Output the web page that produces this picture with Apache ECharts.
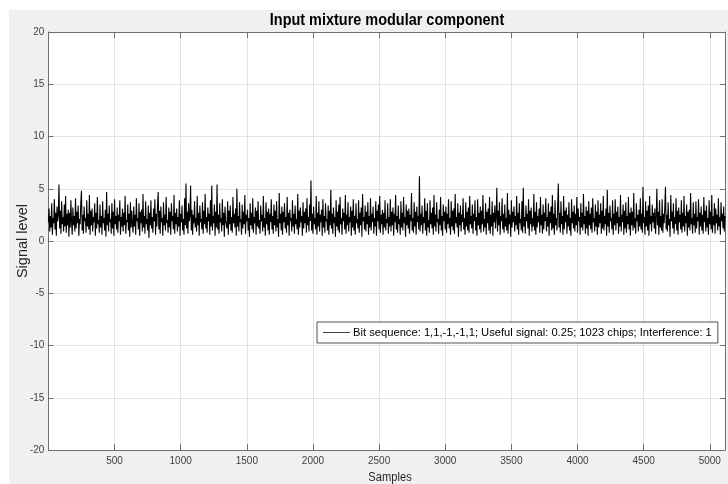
<!DOCTYPE html>
<html>
<head>
<meta charset="utf-8">
<script src="https://cdn.jsdelivr.net/npm/echarts@6/dist/echarts.min.js"></script>
<style>html,body{margin:0;padding:0;background:#fff}#c{width:728px;height:484px}</style>
</head>
<body>
<div id="c"></div>
<script>
// Sample step between plotted points (samples)
var sampleStep = 5;
// Signal level, one value every 5 samples (5115 samples total)
var signalLevel = [
1.8,3.1,0.9,2.4,1.3,3.6,0.6,2.2,1.7,4.0,1.1,2.7,0.5,3.3,1.9,2.5,
5.4,1.2,2.9,0.7,3.8,1.6,2.3,0.9,3.5,1.4,4.3,0.8,2.6,1.5,3.0,0.4,
2.7,1.3,3.9,1.8,0.6,3.2,1.5,2.4,0.9,4.1,1.2,2.8,1.7,3.4,0.5,2.1,
1.6,3.7,4.8,1.0,2.5,0.7,3.3,1.9,2.2,0.8,3.9,1.4,2.6,1.1,4.4,0.6,
2.9,1.5,3.1,0.9,2.3,1.8,3.6,0.5,2.7,1.2,4.2,1.6,2.0,0.8,3.5,1.3,
2.4,0.6,3.8,1.7,2.2,1.0,3.0,0.4,4.7,1.5,2.6,0.9,3.4,1.8,2.1,0.7,
3.6,1.2,2.8,0.5,4.0,1.6,2.4,1.1,3.2,0.8,2.5,1.9,3.9,0.6,2.3,1.4,
3.1,0.9,2.7,1.5,4.3,0.7,2.0,1.8,3.5,1.0,2.6,0.4,3.7,1.3,2.9,1.6,
0.8,3.3,1.4,2.5,0.6,4.1,1.9,2.2,1.1,3.6,0.5,2.8,1.7,3.0,0.9,4.5,
1.3,2.4,0.7,3.8,1.6,2.1,1.0,3.4,0.3,2.7,1.5,3.9,1.2,2.3,0.8,3.1,
1.9,4.0,0.6,2.6,1.4,3.5,4.7,1.1,2.9,0.7,3.3,1.8,2.2,0.5,3.7,1.5,
2.5,1.0,4.2,1.7,2.0,0.8,3.2,1.3,2.8,0.6,3.6,1.9,2.4,1.1,4.4,0.7,
2.7,1.6,3.1,0.9,2.3,1.4,3.9,0.5,2.6,1.8,3.4,1.0,2.1,0.6,4.1,1.5,
5.5,1.2,2.8,0.7,3.6,1.9,2.4,5.3,1.0,3.0,0.6,2.5,1.7,3.8,1.3,2.2,
0.9,4.3,1.5,2.7,0.5,3.4,1.8,2.1,1.1,3.7,0.7,2.9,1.6,4.5,1.2,2.3,
0.8,3.2,1.9,2.6,0.6,3.9,1.4,5.3,1.0,2.4,1.7,3.5,0.5,2.8,1.3,5.4,
1.1,2.5,0.7,3.6,1.8,2.2,0.9,4.0,1.5,2.7,0.4,3.3,1.9,2.0,1.2,3.8,
0.6,2.9,1.6,3.4,1.0,2.3,0.8,4.2,1.7,2.6,1.3,3.1,0.5,5.0,1.4,2.4,
0.9,3.7,1.8,2.1,0.6,3.5,1.2,2.8,1.6,4.4,0.7,2.5,1.9,3.0,1.0,2.2,
0.4,3.6,1.5,2.7,1.1,4.1,0.8,2.3,1.7,3.2,0.6,2.9,1.4,3.8,1.2,2.0,
0.7,3.4,1.9,2.5,0.9,4.3,1.3,2.2,0.5,3.7,1.6,2.8,1.0,3.1,0.6,2.6,
1.8,4.0,1.1,2.4,0.7,3.5,1.5,2.9,0.9,3.8,1.3,2.1,0.4,4.6,1.7,2.6,
1.0,3.3,0.6,2.8,1.8,3.6,1.2,2.3,0.8,4.2,1.5,2.7,0.5,3.0,1.9,2.2,
0.9,3.9,1.4,2.6,0.7,3.4,1.6,2.1,1.1,4.5,0.6,2.9,1.3,3.2,1.8,2.4,
0.5,3.7,1.2,2.8,1.7,3.1,0.8,4.1,1.5,2.3,0.9,3.5,1.9,5.8,1.0,2.6,
0.7,3.3,1.6,2.2,1.1,4.3,0.6,2.7,1.4,3.8,0.9,2.5,1.8,3.0,0.5,4.0,
1.3,2.4,0.8,3.6,1.9,2.1,1.0,3.4,0.6,2.9,1.5,4.9,1.2,2.6,0.7,3.2,
1.7,2.3,0.4,3.9,1.4,2.8,1.0,3.5,0.8,4.2,1.6,2.2,0.6,3.1,1.9,2.7,
1.1,4.4,0.7,2.5,1.5,3.7,0.9,2.3,1.8,3.3,0.5,2.9,1.3,4.0,1.0,2.4,
0.6,3.6,1.7,2.1,1.2,3.9,0.8,2.7,1.5,3.2,0.4,4.5,1.9,2.3,1.1,3.4,
0.9,2.8,1.6,3.7,0.6,2.4,1.3,4.1,1.0,2.6,1.8,3.3,0.7,2.2,1.4,3.8,
0.5,2.9,1.9,3.5,1.1,4.3,0.8,2.5,1.6,3.0,0.6,2.7,1.3,3.9,1.0,2.1,
1.7,3.6,0.7,2.3,1.4,4.0,0.9,2.8,1.5,3.2,0.5,2.6,1.8,4.4,1.1,2.4,
0.8,3.4,1.6,2.1,0.6,3.8,1.3,2.7,1.0,4.2,1.7,2.3,0.4,3.5,1.5,2.9,
1.2,3.1,0.7,2.5,1.9,4.6,1.0,2.2,0.8,3.7,1.4,2.8,0.6,3.3,1.8,2.4,
1.1,6.2,0.9,2.6,1.5,3.4,0.7,2.3,1.7,4.1,1.0,2.9,0.5,3.6,1.3,2.0,
0.8,3.9,1.6,2.7,1.2,3.2,0.6,4.4,1.4,2.5,0.9,3.7,1.8,2.1,0.7,3.0,
1.5,4.2,1.0,2.4,0.5,3.5,1.9,2.8,1.1,3.3,0.8,2.6,1.6,4.0,1.2,2.2,
0.6,3.8,1.4,2.9,1.0,3.1,0.7,4.5,1.7,2.3,1.3,3.6,0.4,2.7,1.5,3.4,
0.9,2.5,1.8,4.1,1.1,2.2,0.6,3.7,1.4,2.8,1.0,3.2,0.8,4.3,1.6,2.4,
1.2,3.5,0.7,2.6,1.9,3.9,1.0,2.3,0.5,4.0,1.5,2.7,1.1,3.3,0.8,2.9,
1.6,4.4,0.9,2.1,1.3,3.6,0.6,2.8,1.7,3.1,1.0,4.2,0.7,2.5,1.4,3.8,
0.5,2.7,1.8,3.4,1.2,2.3,5.1,0.9,2.9,1.5,3.7,0.6,2.4,1.9,4.1,1.1,
2.6,0.8,3.5,1.4,2.2,1.0,4.6,0.7,3.0,1.6,2.5,0.4,3.9,1.3,2.8,1.8,
3.3,0.9,2.4,1.5,4.3,1.1,2.7,0.6,3.6,1.7,2.1,1.0,3.8,0.8,5.1,1.4,
2.3,0.7,3.4,1.9,2.6,1.2,4.0,0.5,2.9,1.6,3.2,0.9,2.2,1.4,4.5,1.0,
2.8,0.6,3.7,1.3,2.4,1.8,3.1,0.8,4.2,1.5,2.5,0.7,3.5,1.1,2.7,1.9,
4.1,0.9,2.3,1.4,3.6,0.5,2.8,1.7,3.3,1.0,4.4,1.2,2.6,0.6,3.9,1.5,
2.2,1.0,3.5,5.5,1.3,2.7,0.8,3.8,1.6,2.4,0.6,4.3,1.1,2.9,1.8,3.2,
0.7,2.5,1.4,3.7,1.0,2.2,0.5,4.0,1.7,2.8,1.2,3.4,0.9,2.6,1.5,4.2,
0.8,3.1,1.9,2.3,0.6,3.6,1.3,2.7,1.0,4.5,1.6,2.4,0.7,3.3,1.2,2.9,
0.5,3.8,1.5,2.6,1.1,3.2,0.8,4.1,1.8,2.2,0.9,3.5,1.4,2.8,0.6,3.9,
1.3,2.5,1.7,3.6,0.7,2.9,1.2,4.3,1.0,2.4,1.6,3.1,0.5,4.9,1.4,2.7,
0.8,3.4,1.9,2.2,1.1,3.9,0.6,2.6,1.5,4.0,1.0,2.8,1.7,3.3,0.7,2.3,
1.4,4.4,0.9,2.5,1.8,3.5,0.6,2.9,1.2,3.7,0.8,2.4,1.6,4.2,1.1,2.7,
0.5,3.2,1.5,2.8,1.0,4.6,1.3,2.2,0.7,3.6,1.9,2.5,0.9,3.0,1.4,4.1,
1.1,2.6,0.8,5.2,1.7,2.3,0.6,3.8,1.4,2.9,1.0,3.4,0.5,4.3,1.6,2.4,
0.9,3.5,1.8,2.7,1.2,3.1,0.7,2.2,5.0,1.5,2.8,0.6,3.9,1.3,2.4,1.0,
4.0,0.8,2.6,1.7,3.3,5.2,1.1,2.5,0.9,3.7,1.5,2.1,0.4,4.4,1.9,2.8,
1.2,3.6,0.7,2.3,1.6,4.1,1.0,2.9,0.6,3.2,1.8,2.5,1.1,3.9,0.8,2.7,
1.4,4.3,0.9,2.4,1.7,3.5,0.5,2.8,1.3,3.0,1.0,4.6,1.6,2.2,0.7,3.7,
1.5,2.6,0.8,3.8,1.2,2.3,1.9,4.0,0.6,2.7,1.4,3.3,1.0,2.5,0.7,4.2,
1.8,2.9,0.9,3.4,1.3,2.2,0.6,3.9,1.6,2.8,1.1,4.4,0.8,2.4,1.5,3.6,
0.7,3.1,1.7,2.5,1.0,4.1,1.4,2.3,0.6,3.7,1.9,2.6,1.2,3.3,0.9,2.4
];
var totalSamples = 5115;
var xTicks = [500,1000,1500,2000,2500,3000,3500,4000,4500,5000];
var yTicks = [-20,-15,-10,-5,0,5,10,15,20];
var titleText = 'Input mixture modular component';
var xName = 'Samples';
var yName = 'Signal level';
var seriesName = 'Bit sequence: 1,1,-1,-1,1; Useful signal: 0.25; 1023 chips; Interference: 1';

var pts = signalLevel.map(function (v, i) { return [i * sampleStep, v]; });
var FONT = '"Liberation Sans",Arial,Helvetica,sans-serif';
var axisCol = '#6e6e6e';
var gridCol = '#e3e3e3';

var chart = echarts.init(document.getElementById('c'), null, {renderer: 'canvas'});
chart.setOption({
  animation: false,
  backgroundColor: '#f0f0f0',
  graphic: [
    {type: 'rect', shape: {x: 0, y: 0, width: 728, height: 10}, style: {fill: '#fff'}, silent: true},
    {type: 'rect', shape: {x: 0, y: 0, width: 9, height: 484}, style: {fill: '#fff'}, silent: true},
    {type: 'text', x: 387, y: 20, scaleX: 0.85, style: {text: titleText, fontFamily: FONT, fontWeight: 'bold', fontSize: 17, fill: '#000', align: 'center', verticalAlign: 'middle'}},
    {type: 'text', x: 390, y: 478, scaleX: 0.93, style: {text: xName, fontFamily: FONT, fontSize: 12, fill: '#262626', align: 'center', verticalAlign: 'middle'}},
    {type: 'text', x: 23, y: 241, rotation: Math.PI / 2, style: {text: yName, fontFamily: FONT, fontSize: 14.5, fill: '#262626', align: 'center', verticalAlign: 'middle'}}
  ],
  grid: {left: 48.4, top: 32, width: 681.2, height: 418, show: true, backgroundColor: '#fff', borderWidth: 0, containLabel: false},
  legend: {
    left: 317, top: 322, orient: 'horizontal',
    backgroundColor: '#fff', borderColor: '#262626', borderWidth: 0.8, borderRadius: 0,
    padding: [5, 6, 5, 6],
    itemWidth: 27, itemHeight: 1, itemGap: 0,
    icon: 'rect',
    textStyle: {fontFamily: FONT, fontSize: 11.2, color: '#000', padding: [0, 0, 0, -2]},
    data: [{name: seriesName, itemStyle: {color: '#444'}}]
  },
  xAxis: [{
    type: 'value', min: 0, max: totalSamples, interval: 500, position: 'bottom',
    axisLine: {show: true, onZero: false, lineStyle: {color: axisCol, width: 1}},
    axisTick: {show: true, inside: true, length: 6, lineStyle: {color: axisCol}},
    axisLabel: {fontFamily: FONT, fontSize: 10, color: '#404040', margin: 6,
      formatter: function (v) { return xTicks.indexOf(v) >= 0 ? String(v) : ''; }},
    splitLine: {show: true, lineStyle: {color: gridCol, width: 1}}
  }, {
    type: 'value', min: 0, max: totalSamples, interval: 500, position: 'top',
    axisLine: {show: true, onZero: false, lineStyle: {color: axisCol, width: 1}},
    axisTick: {show: true, inside: true, length: 6, lineStyle: {color: axisCol}},
    axisLabel: {show: false}, splitLine: {show: false}
  }],
  yAxis: [{
    type: 'value', min: -20, max: 20, interval: 5, position: 'left',
    axisLine: {show: true, onZero: false, lineStyle: {color: axisCol, width: 1}},
    axisTick: {show: true, inside: true, length: 5, lineStyle: {color: axisCol}},
    axisLabel: {fontFamily: FONT, fontSize: 10, color: '#404040', margin: 4,
      formatter: function (v) { return yTicks.indexOf(v) >= 0 ? String(v) : ''; }},
    splitLine: {show: true, lineStyle: {color: gridCol, width: 1}}
  }, {
    type: 'value', min: -20, max: 20, interval: 5, position: 'right',
    axisLine: {show: true, onZero: false, lineStyle: {color: axisCol, width: 1}},
    axisTick: {show: true, inside: true, length: 5, lineStyle: {color: axisCol}},
    axisLabel: {show: false}, splitLine: {show: false}
  }],
  series: [{
    name: seriesName, type: 'line', xAxisIndex: 0, yAxisIndex: 0,
    data: pts, showSymbol: false, symbol: 'none', sampling: null,
    lineStyle: {color: '#000', width: 1.1}, itemStyle: {color: '#000'},
    emphasis: {disabled: true}
  }]
});
</script>
</body>
</html>
